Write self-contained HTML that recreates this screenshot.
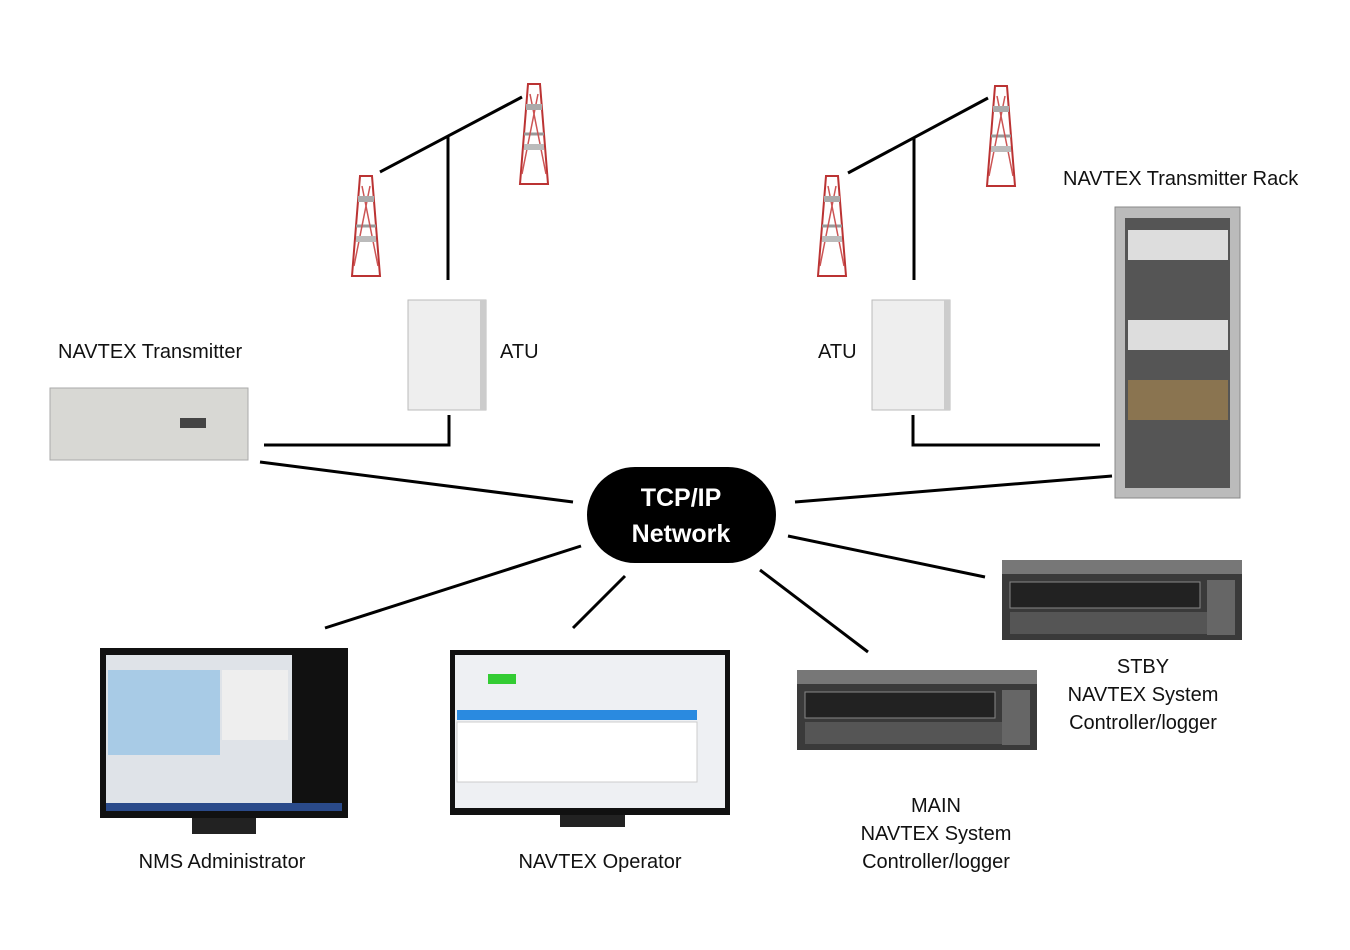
<!DOCTYPE html>
<html><head><meta charset="utf-8"><style>
html,body{margin:0;padding:0;background:#fff;}
body{width:1350px;height:950px;position:relative;overflow:hidden;font-family:"Liberation Sans",sans-serif;}
.t{position:absolute;font-size:20px;color:#111;white-space:nowrap;}
.c{text-align:center;line-height:28px;}
</style></head><body>
<svg width="1350" height="950" style="position:absolute;left:0;top:0">
<defs>
<g id="tower">
 <polygon points="-6,0 6,0 14,100 -14,100" fill="none" stroke="#b33" stroke-width="2"/>
 <line x1="-10" y1="50" x2="10" y2="50" stroke="#999" stroke-width="3"/>
 <line x1="-4" y1="10" x2="12" y2="90" stroke="#c55" stroke-width="1.5"/>
 <line x1="4" y1="10" x2="-12" y2="90" stroke="#c55" stroke-width="1.5"/>
 <rect x="-8" y="20" width="16" height="6" fill="#aaa"/>
 <rect x="-10" y="60" width="20" height="6" fill="#bbb"/>
</g>
<g id="server">
 <rect x="0" y="0" width="240" height="80" fill="#3a3a3a"/>
 <rect x="0" y="0" width="240" height="14" fill="#777"/>
 <rect x="8" y="22" width="190" height="26" fill="#222" stroke="#888"/>
 <rect x="8" y="52" width="224" height="22" fill="#555"/>
 <rect x="205" y="20" width="28" height="55" fill="#666"/>
</g>
</defs>
<use href="#tower" x="366" y="176"/>
<use href="#tower" x="534" y="84"/>
<use href="#tower" x="832" y="176"/>
<use href="#tower" x="1001" y="86"/>
<g stroke="#000" stroke-width="3" fill="none">
<line x1="380" y1="172" x2="522" y2="97"/>
<line x1="448" y1="137" x2="448" y2="280"/>
<line x1="848" y1="173" x2="988" y2="98"/>
<line x1="914" y1="137" x2="914" y2="280"/>
<polyline points="264,445 449,445 449,415"/>
<polyline points="913,415 913,445 1100,445"/>
<line x1="260" y1="462" x2="573" y2="502"/>
<line x1="795" y1="502" x2="1112" y2="476"/>
<line x1="581" y1="546" x2="325" y2="628"/>
<line x1="625" y1="576" x2="573" y2="628"/>
<line x1="760" y1="570" x2="868" y2="652"/>
<line x1="788" y1="536" x2="985" y2="577"/>
</g>
<!-- ATUs -->
<rect x="408" y="300" width="78" height="110" fill="#eee" stroke="#bbb"/>
<rect x="480" y="300" width="6" height="110" fill="#ccc"/>
<rect x="872" y="300" width="78" height="110" fill="#eee" stroke="#bbb"/>
<rect x="944" y="300" width="6" height="110" fill="#ccc"/>
<!-- Transmitter -->
<rect x="50" y="388" width="198" height="72" fill="#d8d8d4" stroke="#aaa"/>
<rect x="180" y="418" width="26" height="10" fill="#444"/>
<!-- Rack -->
<rect x="1115" y="207" width="125" height="291" fill="#bbb" stroke="#888"/>
<rect x="1125" y="218" width="105" height="270" fill="#555"/>
<rect x="1128" y="230" width="100" height="30" fill="#ddd"/>
<rect x="1128" y="320" width="100" height="30" fill="#ddd"/>
<rect x="1128" y="380" width="100" height="40" fill="#8a7450"/>
<!-- Network -->
<rect x="587" y="467" width="189" height="96" rx="48" fill="#000"/>
<text x="681" y="506" fill="#fff" font-size="25" font-weight="bold" text-anchor="middle" font-family="Liberation Sans">TCP/IP</text>
<text x="681" y="542" fill="#fff" font-size="25" font-weight="bold" text-anchor="middle" font-family="Liberation Sans">Network</text>
<!-- servers -->
<use href="#server" x="1002" y="560"/>
<use href="#server" x="797" y="670"/>
<!-- monitors -->
<rect x="100" y="648" width="248" height="170" fill="#111"/>
<rect x="106" y="655" width="186" height="150" fill="#dfe3e8"/>
<rect x="108" y="670" width="112" height="85" fill="#a8cbe6"/>
<rect x="222" y="670" width="66" height="70" fill="#eee"/>
<rect x="106" y="803" width="236" height="8" fill="#2a4a8a"/>
<rect x="192" y="818" width="64" height="16" fill="#222"/>
<rect x="450" y="650" width="280" height="165" fill="#111"/>
<rect x="455" y="655" width="270" height="153" fill="#eef0f3"/>
<rect x="457" y="710" width="240" height="10" fill="#2a8ae0"/>
<rect x="457" y="722" width="240" height="60" fill="#fff" stroke="#ccc"/>
<rect x="488" y="674" width="28" height="10" fill="#3c3"/>
<rect x="560" y="815" width="65" height="12" fill="#222"/>
</svg>
<div class="t" style="left:58px;top:341px">NAVTEX Transmitter</div>
<div class="t" style="left:500px;top:341px">ATU</div>
<div class="t" style="left:818px;top:341px">ATU</div>
<div class="t" style="left:1063px;top:168px">NAVTEX Transmitter Rack</div>
<div class="t c" style="left:100px;width:244px;top:848px">NMS Administrator</div>
<div class="t c" style="left:470px;width:260px;top:848px">NAVTEX Operator</div>
<div class="t c" style="left:1030px;width:226px;top:653px">STBY<br>NAVTEX System<br>Controller/logger</div>
<div class="t c" style="left:823px;width:226px;top:792px">MAIN<br>NAVTEX System<br>Controller/logger</div>
</body></html>
